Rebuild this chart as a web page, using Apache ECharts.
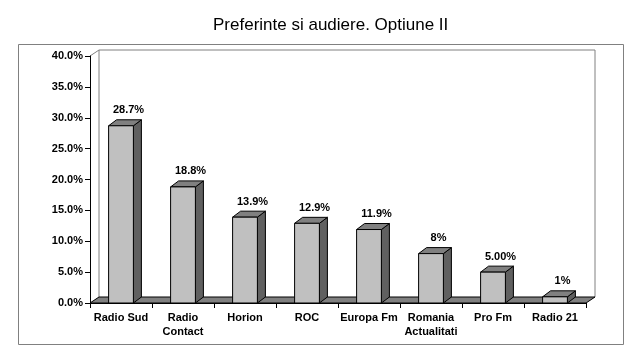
<!DOCTYPE html>
<html><head><meta charset="utf-8">
<script src="https://cdn.jsdelivr.net/npm/echarts@6/dist/echarts.min.js"></script>
<style>html,body{margin:0;padding:0;background:#fff}#c{width:630px;height:351px}</style>
</head><body><div id="c"></div>
<script>
const categories = ['Radio Sud', 'Radio\nContact', 'Horion', 'ROC', 'Europa Fm', 'Romania\nActualitati', 'Pro Fm', 'Radio 21'];
const values = [28.7, 18.8, 13.9, 12.9, 11.9, 8, 5, 1];
const valueLabels = ['28.7%', '18.8%', '13.9%', '12.9%', '11.9%', '8%', '5.00%', '1%'];
const yTicks = [0, 5, 10, 15, 20, 25, 30, 35, 40];

const DX = 9, DY = 6;
const FONT = 'Liberation Sans, Arial, sans-serif';
const chart = echarts.init(document.getElementById('c'));

function renderBar(params, api) {
  const i = api.value(0), v = api.value(1);
  const base = api.coord([i, 0]);
  const top = api.coord([i, v]);
  const bw = api.size([1, 0])[0] * 0.4;
  const x0 = base[0] - bw / 2, x1 = base[0] + bw / 2;
  const dx = 8, dy = 6;
  const st = {stroke: '#000', lineWidth: 1};
  return {
    type: 'group',
    children: [
      {type: 'polygon', shape: {points: [[x1, top[1]], [x1 + dx, top[1] - dy], [x1 + dx, base[1] - dy], [x1, base[1]]]},
        style: Object.assign({fill: '#606060'}, st)},
      {type: 'polygon', shape: {points: [[x0, top[1]], [x0 + dx, top[1] - dy], [x1 + dx, top[1] - dy], [x1, top[1]]]},
        style: Object.assign({fill: '#808080'}, st)},
      {type: 'rect', shape: {x: x0, y: top[1], width: bw, height: base[1] - top[1]},
        style: Object.assign({fill: '#C0C0C0'}, st)},
      {type: 'text', style: {text: valueLabels[params.dataIndex], x: base[0] + 7.5, y: top[1] - dy - 4,
        textAlign: 'center', textVerticalAlign: 'bottom', font: 'bold 11px ' + FONT, fill: '#000'}}
    ]
  };
}

function renderWalls(params, api) {
  const c = params.coordSys;
  const x = c.x, y = c.y, w = c.width, h = c.height;
  const wallCol = '#808080';
  return {
    type: 'group',
    children: [
      {type: 'polyline', shape: {points: [[x + DX, y + h - DY], [x + DX, y - DY], [x + w + DX, y - DY], [x + w + DX, y + h - DY]]},
        style: {stroke: wallCol, lineWidth: 1, fill: null}},
      {type: 'line', shape: {x1: x, y1: y, x2: x + DX, y2: y - DY}, style: {stroke: wallCol, lineWidth: 1}},
      {type: 'polygon', shape: {points: [[x, y + h], [x + DX, y + h - DY], [x + w + DX, y + h - DY], [x + w, y + h]]},
        style: {fill: '#808080', stroke: '#000', lineWidth: 1}}
    ]
  };
}

chart.setOption({
  animation: false,
  backgroundColor: '#fff',
  title: {
    text: 'Preferinte si audiere. Optiune II', left: 208, top: 12,
    textStyle: {fontFamily: FONT, fontSize: 17, fontWeight: 'normal', color: '#000'}
  },
  graphic: [{
    type: 'rect', shape: {x: 18.5, y: 44.5, width: 605, height: 300},
    style: {fill: null, stroke: '#808080', lineWidth: 1}, z: -10
  }],
  grid: {left: 90, right: 44, top: 56, bottom: 48},
  xAxis: {
    type: 'category', data: categories,
    axisLine: {show: true, lineStyle: {color: '#000'}},
    axisTick: {show: true, length: 5, alignWithLabel: false, lineStyle: {color: '#000'}},
    axisLabel: {color: '#000', fontFamily: FONT, fontWeight: 'bold', fontSize: 11, margin: 8, lineHeight: 14, interval: 0},
    z: 10
  },
  yAxis: {
    type: 'value', min: 0, max: 40, interval: 5,
    axisLine: {show: true, lineStyle: {color: '#000'}},
    axisTick: {show: true, length: 5, lineStyle: {color: '#000'}},
    splitLine: {show: false},
    axisLabel: {color: '#000', fontFamily: FONT, fontWeight: 'bold', fontSize: 11, margin: 7,
      formatter: v => v.toFixed(1) + '%'},
    z: 10
  },
  series: [
    {type: 'custom', data: [[0, 0]], renderItem: renderWalls, z: 1, silent: true},
    {type: 'custom', data: values.map((v, i) => [i, v]), renderItem: renderBar, z: 5, encode: {x: 0, y: 1}}
  ]
});
</script></body></html>
